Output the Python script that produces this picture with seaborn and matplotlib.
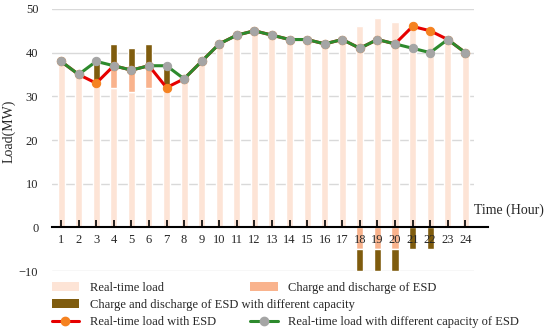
import numpy as np
import pandas as pd
import matplotlib
matplotlib.use("Agg")
import matplotlib.pyplot as plt
import seaborn as sns
from matplotlib.patches import Patch
from matplotlib.lines import Line2D

# Data
hours = list(range(1, 25))
real_load = [38, 35, 33, 32, 31, 32, 32, 34, 38, 42, 44, 45,
             44, 43, 43, 42, 43, 46, 48, 47, 46, 45, 43, 40]
esd = [0, 0, 0, 5, 5, 5, 0, 0, 0, 0, 0, 0,
       0, 0, 0, 0, 0, -5, -5, -5, 0, 0, 0, 0]
esd_diff = [0, 0, 5, 5, 5, 5, 5, 0, 0, 0, 0, 0,
            0, 0, 0, 0, 0, -5, -5, -5, -5, -5, 0, 0]
load_with_esd = [38, 35, 33, 37, 36, 37, 32, 34, 38, 42, 44, 45,
                 44, 43, 43, 42, 43, 41, 43, 42, 46, 45, 43, 40]
load_with_diff = [38, 35, 38, 37, 36, 37, 37, 34, 38, 42, 44, 45,
                  44, 43, 43, 42, 43, 41, 43, 42, 41, 40, 43, 40]
y_ticks = [-10, 0, 10, 20, 30, 40, 50]

df = pd.DataFrame({"hour": hours, "real": real_load, "esd": esd,
                   "esd_diff": esd_diff, "with_esd": load_with_esd,
                   "with_diff": load_with_diff})

# stacking bottoms
real_arr = np.array(real_load)
esd_arr = np.array(esd)
diff_arr = np.array(esd_diff)
esd_bottom = np.where(esd_arr >= 0, real_arr, 0)
diff_bottom = np.where(diff_arr >= 0, real_arr + np.maximum(esd_arr, 0), np.minimum(esd_arr, 0))

c_light = "#FDE4D6"
c_orange = "#F9B38D"
c_brown = "#7F5C0E"
c_red = "#E60000"
c_dot = "#F58220"
c_green = "#2D8A2D"
c_grey = "#A5A5A5"

sns.set_style("white")
plt.rcParams["font.family"] = ["Liberation Serif", "DejaVu Serif"]

fig = plt.figure(figsize=(5.5, 3.31), dpi=100)
ax = fig.add_axes([0.095, 0.181, 0.767, 0.792])

# gridlines behind the bars
for yv in y_ticks:
    if yv != 0:
        ax.axhline(yv, color="#D9D9D9", linewidth=1, zorder=0.5)

sns.barplot(data=df, x="hour", y="real", native_scale=True, width=0.4,
            color=c_light, saturation=1, ax=ax)
sns.barplot(data=df, x="hour", y="esd", native_scale=True, width=0.4,
            color=c_orange, saturation=1, bottom=esd_bottom, ax=ax)
sns.barplot(data=df, x="hour", y="esd_diff", native_scale=True, width=0.4,
            color=c_brown, saturation=1, bottom=diff_bottom, ax=ax)

sns.lineplot(data=df, x="hour", y="with_esd", color=c_red, linewidth=2.2,
             marker="o", markersize=6, markerfacecolor=c_dot,
             markeredgecolor=c_dot, ax=ax)
sns.lineplot(data=df, x="hour", y="with_diff", color=c_green, linewidth=2.2,
             marker="o", markersize=6, markerfacecolor=c_grey,
             markeredgecolor=c_grey, ax=ax)

ax.set_xlim(0.5, 24.5)
ax.set_ylim(-10, 50)
ax.set_yticks(y_ticks)
ax.set_xticks(hours)
ax.set_xticklabels([str(h) for h in hours])
ax.grid(False)
ax.set_axisbelow(False)

for s in ["left", "right", "top"]:
    ax.spines[s].set_visible(False)
ax.spines["bottom"].set_position(("data", 0))
ax.spines["bottom"].set_color("black")
ax.spines["bottom"].set_linewidth(1.5)
ax.spines["bottom"].set_bounds(0.5, 25.3)

ax.tick_params(axis="x", direction="in", length=5, width=1.2, color="black",
               labelsize=9, pad=5, bottom=True)
ax.tick_params(axis="y", length=0, labelsize=9, pad=10)

ax.set_xlabel("")
ax.set_ylabel("Load(MW)", fontsize=10)
ax.yaxis.set_label_coords(-0.088, 0.534)
ax.text(1.0, 0.205, "Time (Hour)", transform=ax.transAxes, fontsize=10,
        ha="left", va="bottom")

# legend rows
h_light = Patch(facecolor=c_light, edgecolor="none")
h_orange = Patch(facecolor=c_orange, edgecolor="none")
h_brown = Patch(facecolor=c_brown, edgecolor="none")
h_red = Line2D([], [], color=c_red, lw=2.2, marker="o", markersize=6,
               markerfacecolor=c_dot, markeredgecolor=c_dot)
h_green = Line2D([], [], color=c_green, lw=2.2, marker="o", markersize=6,
                 markerfacecolor=c_grey, markeredgecolor=c_grey)
h_blank = Patch(visible=False)

leg_kw = dict(frameon=False, fontsize=9, handlelength=2.2, handleheight=0.7,
              handletextpad=0.85, labelspacing=0.42, borderpad=0,
              borderaxespad=0, loc="upper left")
fig.legend([h_light, h_brown, h_red],
           ["Real-time load",
            "Charge and discharge of ESD with different capacity",
            "Real-time load with ESD"],
           bbox_to_anchor=(0.094, 0.149), **leg_kw)
fig.legend([h_orange, h_blank, h_green],
           ["Charge and discharge of ESD", "",
            "Real-time load with different capacity of ESD"],
           bbox_to_anchor=(0.455, 0.149), **leg_kw)

fig.savefig("out.png", dpi=100)
